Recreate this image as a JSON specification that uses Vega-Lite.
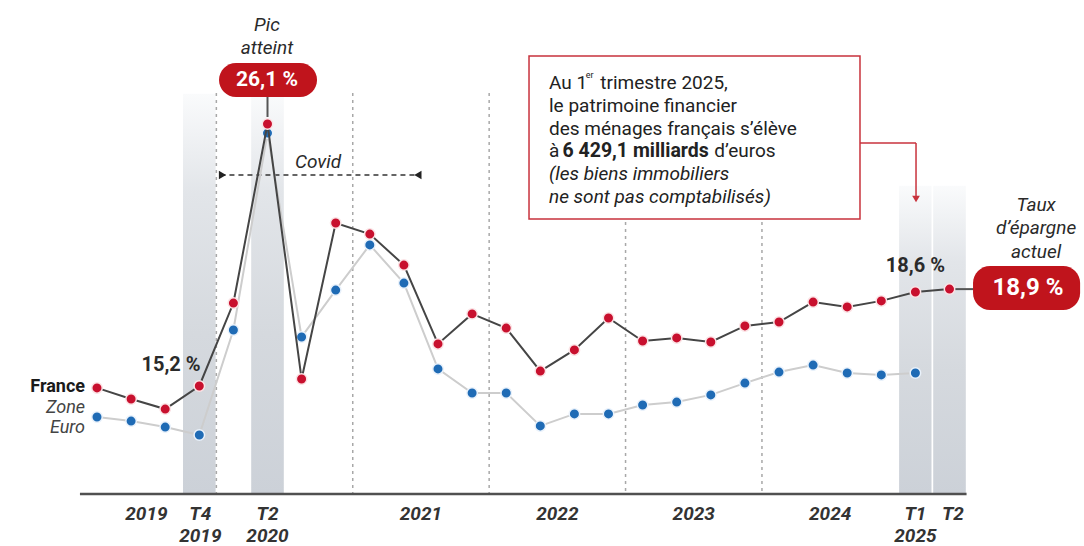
{
  "$schema": "https://vega.github.io/schema/vega-lite/v6.json",
  "width": 1084,
  "height": 546,
  "padding": 0,
  "autosize": {"type": "fit", "contains": "padding"},
  "background": "white",
  "config": {"view": {"stroke": null}, "font": "Roboto"},
  "datasets": {
    "series": [
      {"trimestre": "T1 2019", "t": 0, "serie": "France", "v": 15.12},
      {"trimestre": "T2 2019", "t": 1, "serie": "France", "v": 14.66},
      {"trimestre": "T3 2019", "t": 2, "serie": "France", "v": 14.24},
      {"trimestre": "T4 2019", "t": 3, "serie": "France", "v": 15.2},
      {"trimestre": "T1 2020", "t": 4, "serie": "France", "v": 18.65},
      {"trimestre": "T2 2020", "t": 5, "serie": "France", "v": 26.1},
      {"trimestre": "T3 2020", "t": 6, "serie": "France", "v": 15.49},
      {"trimestre": "T4 2020", "t": 7, "serie": "France", "v": 21.98},
      {"trimestre": "T1 2021", "t": 8, "serie": "France", "v": 21.52},
      {"trimestre": "T2 2021", "t": 9, "serie": "France", "v": 20.23},
      {"trimestre": "T3 2021", "t": 10, "serie": "France", "v": 16.95},
      {"trimestre": "T4 2021", "t": 11, "serie": "France", "v": 18.2},
      {"trimestre": "T1 2022", "t": 12, "serie": "France", "v": 17.61},
      {"trimestre": "T2 2022", "t": 13, "serie": "France", "v": 15.82},
      {"trimestre": "T3 2022", "t": 14, "serie": "France", "v": 16.7},
      {"trimestre": "T4 2022", "t": 15, "serie": "France", "v": 18.03},
      {"trimestre": "T1 2023", "t": 16, "serie": "France", "v": 17.07},
      {"trimestre": "T2 2023", "t": 17, "serie": "France", "v": 17.2},
      {"trimestre": "T3 2023", "t": 18, "serie": "France", "v": 17.03},
      {"trimestre": "T4 2023", "t": 19, "serie": "France", "v": 17.7},
      {"trimestre": "T1 2024", "t": 20, "serie": "France", "v": 17.86},
      {"trimestre": "T2 2024", "t": 21, "serie": "France", "v": 18.69},
      {"trimestre": "T3 2024", "t": 22, "serie": "France", "v": 18.49},
      {"trimestre": "T4 2024", "t": 23, "serie": "France", "v": 18.74},
      {"trimestre": "T1 2025", "t": 24, "serie": "France", "v": 19.11},
      {"trimestre": "T2 2025", "t": 25, "serie": "France", "v": 19.23},
      {"trimestre": "T1 2019", "t": 0, "serie": "Zone euro", "v": 13.91},
      {"trimestre": "T2 2019", "t": 1, "serie": "Zone euro", "v": 13.74},
      {"trimestre": "T3 2019", "t": 2, "serie": "Zone euro", "v": 13.49},
      {"trimestre": "T4 2019", "t": 3, "serie": "Zone euro", "v": 13.16},
      {"trimestre": "T1 2020", "t": 4, "serie": "Zone euro", "v": 17.53},
      {"trimestre": "T2 2020", "t": 5, "serie": "Zone euro", "v": 25.72},
      {"trimestre": "T3 2020", "t": 6, "serie": "Zone euro", "v": 17.24},
      {"trimestre": "T4 2020", "t": 7, "serie": "Zone euro", "v": 19.19},
      {"trimestre": "T1 2021", "t": 8, "serie": "Zone euro", "v": 21.07},
      {"trimestre": "T2 2021", "t": 9, "serie": "Zone euro", "v": 19.48},
      {"trimestre": "T3 2021", "t": 10, "serie": "Zone euro", "v": 15.91},
      {"trimestre": "T4 2021", "t": 11, "serie": "Zone euro", "v": 14.91},
      {"trimestre": "T1 2022", "t": 12, "serie": "Zone euro", "v": 14.91},
      {"trimestre": "T2 2022", "t": 13, "serie": "Zone euro", "v": 13.54},
      {"trimestre": "T3 2022", "t": 14, "serie": "Zone euro", "v": 14.04},
      {"trimestre": "T4 2022", "t": 15, "serie": "Zone euro", "v": 14.04},
      {"trimestre": "T1 2023", "t": 16, "serie": "Zone euro", "v": 14.41},
      {"trimestre": "T2 2023", "t": 17, "serie": "Zone euro", "v": 14.53},
      {"trimestre": "T3 2023", "t": 18, "serie": "Zone euro", "v": 14.83},
      {"trimestre": "T4 2023", "t": 19, "serie": "Zone euro", "v": 15.32},
      {"trimestre": "T1 2024", "t": 20, "serie": "Zone euro", "v": 15.78},
      {"trimestre": "T2 2024", "t": 21, "serie": "Zone euro", "v": 16.07},
      {"trimestre": "T3 2024", "t": 22, "serie": "Zone euro", "v": 15.74},
      {"trimestre": "T4 2024", "t": 23, "serie": "Zone euro", "v": 15.66},
      {"trimestre": "T1 2025", "t": 24, "serie": "Zone euro", "v": 15.74}
    ]
  },
  "encoding": {
    "x": {"field": "t", "type": "quantitative", "scale": {"domain": [-2.8446, 28.944], "nice": false, "zero": false}, "axis": null},
    "y": {"field": "v", "type": "quantitative", "scale": {"domain": [8.544, 31.257], "nice": false, "zero": false}, "axis": null}
  },
  "layer": [
    {
      "data": {"values": [
        {"periode": "T4 2019", "t": 2.5, "t2": 3.5, "v": 27.388, "v2": 10.707},
        {"periode": "T2 2020", "t": 4.5, "t2": 5.5, "v": 27.388, "v2": 10.707},
        {"periode": "T1 2025", "t": 23.5, "t2": 24.5, "v": 23.561, "v2": 10.707},
        {"periode": "T2 2025", "t": 24.5, "t2": 25.5, "v": 23.561, "v2": 10.707}
      ]},
      "mark": {"type": "rect", "stroke": "white", "strokeWidth": 1.5,
        "fill": {"gradient": "linear", "x1": 0, "y1": 0, "x2": 0, "y2": 1,
          "stops": [{"offset": 0, "color": "#fafbfc"}, {"offset": 0.25, "color": "#e2e5e9"}, {"offset": 0.6, "color": "#d5d9de"}, {"offset": 1, "color": "#ccd1d8"}]}},
      "encoding": {"x2": {"field": "t2"}, "y2": {"field": "v2"}}
    },
    {
      "data": {"values": [
        {"t": 3.5, "v": 27.388, "v2": 10.707},
        {"t": 7.5, "v": 27.388, "v2": 10.707},
        {"t": 11.5, "v": 27.388, "v2": 10.707},
        {"t": 15.5, "v": 22.022, "v2": 10.707},
        {"t": 19.5, "v": 22.022, "v2": 10.707}
      ]},
      "mark": {"type": "rule", "color": "#a8a8a8", "strokeWidth": 1.5, "strokeDash": [3, 4]},
      "encoding": {"y2": {"field": "v2"}}
    },
    {
      "data": {"values": [{"t": -0.5, "t2": 25.5, "v": 10.707}]},
      "mark": {"type": "rule", "color": "#505050", "strokeWidth": 2.5},
      "encoding": {"x2": {"field": "t2"}}
    },
    {
      "data": {"values": [
        {"t": -0.5}, {"t": 0.5}, {"t": 1.5}, {"t": 2.5}, {"t": 4.5}, {"t": 5.5}, {"t": 6.5},
        {"t": 8.5}, {"t": 9.5}, {"t": 10.5}, {"t": 12.5}, {"t": 13.5}, {"t": 14.5},
        {"t": 16.5}, {"t": 17.5}, {"t": 18.5}, {"t": 20.5}, {"t": 21.5}, {"t": 22.5},
        {"t": 24.5}, {"t": 25.5}
      ]},
      "mark": {"type": "rule", "color": "#505050", "strokeWidth": 2},
      "encoding": {"y": {"datum": 11.082}, "y2": {"datum": 10.707}}
    },
    {
      "data": {"values": [
        {"t": 1.45, "v": 9.876, "text": "2019"},
        {"t": 3.03, "v": 9.876, "text": "T4"},
        {"t": 3.03, "v": 8.96, "text": "2019"},
        {"t": 5.0, "v": 9.876, "text": "T2"},
        {"t": 5.0, "v": 8.96, "text": "2020"},
        {"t": 9.5, "v": 9.876, "text": "2021"},
        {"t": 13.5, "v": 9.876, "text": "2022"},
        {"t": 17.5, "v": 9.876, "text": "2023"},
        {"t": 21.5, "v": 9.876, "text": "2024"},
        {"t": 24.0, "v": 9.876, "text": "T1"},
        {"t": 24.0, "v": 8.96, "text": "2025"},
        {"t": 25.1, "v": 9.876, "text": "T2"}
      ]},
      "mark": {"type": "text", "fontSize": 19, "fontWeight": "bold", "fontStyle": "italic", "color": "#333333", "align": "center", "baseline": "middle"},
      "encoding": {"text": {"field": "text"}}
    },
    {
      "data": {"values": [{"t": 3.62, "t2": 9.45, "v": 23.977}]},
      "mark": {"type": "rule", "color": "#333333", "strokeWidth": 1.5, "strokeDash": [5, 4]},
      "encoding": {"x2": {"field": "t2"}}
    },
    {
      "data": {"values": [{"t": 3.68, "v": 23.977}]},
      "mark": {"type": "point", "shape": "triangle-right", "filled": true, "color": "#222222", "size": 70, "opacity": 1}
    },
    {
      "data": {"values": [{"t": 9.41, "v": 23.977}]},
      "mark": {"type": "point", "shape": "triangle-left", "filled": true, "color": "#222222", "size": 70, "opacity": 1}
    },
    {
      "data": {"values": [{"t": 5.0, "v": 27.222, "v2": 26.39}]},
      "mark": {"type": "rule", "color": "#555555", "strokeWidth": 2},
      "encoding": {"y2": {"field": "v2"}}
    },
    {
      "data": {"values": [{"t": 25.0, "t2": 25.75, "v": 19.23}]},
      "mark": {"type": "rule", "color": "#555555", "strokeWidth": 2},
      "encoding": {"x2": {"field": "t2"}}
    },
    {
      "data": {"name": "series"},
      "transform": [{"filter": "datum.serie === 'Zone euro'"}],
      "mark": {"type": "line", "color": "#cdcdcd", "strokeWidth": 2}
    },
    {
      "data": {"name": "series"},
      "transform": [{"filter": "datum.serie === 'Zone euro'"}],
      "mark": {"type": "circle", "size": 110, "fill": "#1f6bb5", "stroke": "#eaf2fb", "strokeWidth": 1.5, "opacity": 1}
    },
    {
      "data": {"name": "series"},
      "transform": [{"filter": "datum.serie === 'France'"}],
      "mark": {"type": "line", "color": "#454545", "strokeWidth": 2}
    },
    {
      "data": {"name": "series"},
      "transform": [{"filter": "datum.serie === 'France'"}],
      "mark": {"type": "circle", "size": 110, "fill": "#c8102e", "stroke": "#fbe4e6", "strokeWidth": 1.5, "opacity": 1}
    },
    {
      "data": {"values": [
        {"t": 3.578, "t2": 6.452, "v": 28.636, "v2": 27.222},
        {"t": 25.69, "t2": 28.83, "v": 20.192, "v2": 18.361}
      ]},
      "mark": {"type": "rect", "fill": "#c0141c", "cornerRadius": 17},
      "encoding": {"x2": {"field": "t2"}, "y2": {"field": "v2"}}
    },
    {
      "data": {"values": [
        {"t": 4.985, "v": 27.929, "text": "26,1 %"}
      ]},
      "mark": {"type": "text", "fontSize": 21, "fontWeight": "bold", "color": "white", "align": "center", "baseline": "middle"},
      "encoding": {"text": {"field": "text"}}
    },
    {
      "data": {"values": [
        {"t": 27.3, "v": 19.277, "text": "18,9 %"}
      ]},
      "mark": {"type": "text", "fontSize": 24, "fontWeight": "bold", "color": "white", "align": "center", "baseline": "middle"},
      "encoding": {"text": {"field": "text"}}
    },
    {
      "data": {"values": [{"t": 12.669, "t2": 22.375, "v": 28.927, "v2": 22.147}]},
      "mark": {"type": "rect", "fill": "white", "stroke": "#c8323c", "strokeWidth": 1.5},
      "encoding": {"x2": {"field": "t2"}, "y2": {"field": "v2"}}
    },
    {
      "data": {"values": [
        {"t": 22.375, "t2": 24.018, "v": 25.308, "v2": 25.308},
        {"t": 24.018, "t2": 24.018, "v": 25.308, "v2": 23.103}
      ]},
      "mark": {"type": "rule", "color": "#c8323c", "strokeWidth": 1.5},
      "encoding": {"x2": {"field": "t2"}, "y2": {"field": "v2"}}
    },
    {
      "data": {"values": [{"t": 24.018, "v": 22.979}]},
      "mark": {"type": "point", "shape": "triangle-down", "filled": true, "color": "#c8323c", "size": 60, "opacity": 1}
    },
    {
      "data": {"values": [
        {"t": 13.255, "v": 27.804, "text": "Au 1"},
        {"t": 14.76, "v": 27.804, "text": "trimestre 2025,"},
        {"t": 13.255, "v": 26.847, "text": "le patrimoine financier"},
        {"t": 13.255, "v": 25.891, "text": "des ménages français s’élève"},
        {"t": 13.255, "v": 24.975, "text": "à"},
        {"t": 18.1, "v": 24.975, "text": "d’euros"}
      ]},
      "mark": {"type": "text", "fontSize": 19, "color": "#222222", "align": "left", "baseline": "middle"},
      "encoding": {"text": {"field": "text"}}
    },
    {
      "data": {"values": [{"t": 14.33, "v": 28.15, "text": "er"}]},
      "mark": {"type": "text", "fontSize": 9, "color": "#222222", "align": "left", "baseline": "middle"},
      "encoding": {"text": {"field": "text"}}
    },
    {
      "data": {"values": [{"t": 13.65, "v": 24.975, "text": "6 429,1 milliards"}]},
      "mark": {"type": "text", "fontSize": 19.5, "fontWeight": "bold", "color": "#222222", "align": "left", "baseline": "middle"},
      "encoding": {"text": {"field": "text"}}
    },
    {
      "data": {"values": [
        {"t": 13.255, "v": 24.019, "text": "(les biens immobiliers"},
        {"t": 13.255, "v": 23.062, "text": "ne sont pas comptabilisés)"}
      ]},
      "mark": {"type": "text", "fontSize": 19, "fontStyle": "italic", "color": "#222222", "align": "left", "baseline": "middle"},
      "encoding": {"text": {"field": "text"}}
    },
    {
      "data": {"values": [
        {"t": 4.985, "v": 30.217, "text": "Pic"},
        {"t": 4.985, "v": 29.26, "text": "atteint"},
        {"t": 6.48, "v": 24.518, "text": "Covid"},
        {"t": 27.54, "v": 22.729, "text": "Taux"},
        {"t": 27.54, "v": 21.772, "text": "d’épargne"},
        {"t": 27.54, "v": 20.774, "text": "actuel"}
      ]},
      "mark": {"type": "text", "fontSize": 19, "fontStyle": "italic", "color": "#2a2a2a", "align": "center", "baseline": "middle"},
      "encoding": {"text": {"field": "text"}}
    },
    {
      "data": {"values": [
        {"t": 2.17, "v": 16.074, "text": "15,2 %"},
        {"t": 24.0, "v": 20.192, "text": "18,6 %"}
      ]},
      "mark": {"type": "text", "fontSize": 20, "fontWeight": "bold", "color": "#2a2a2a", "align": "center", "baseline": "middle"},
      "encoding": {"text": {"field": "text"}}
    },
    {
      "data": {"values": [{"t": -0.35, "v": 15.158, "text": "France"}]},
      "mark": {"type": "text", "fontSize": 18, "fontWeight": "bold", "color": "#1a1a1a", "align": "right", "baseline": "middle"},
      "encoding": {"text": {"field": "text"}}
    },
    {
      "data": {"values": [
        {"t": -0.35, "v": 14.285, "text": "Zone"},
        {"t": -0.35, "v": 13.453, "text": "Euro"}
      ]},
      "mark": {"type": "text", "fontSize": 18, "fontStyle": "italic", "color": "#444444", "align": "right", "baseline": "middle"},
      "encoding": {"text": {"field": "text"}}
    }
  ]
}
